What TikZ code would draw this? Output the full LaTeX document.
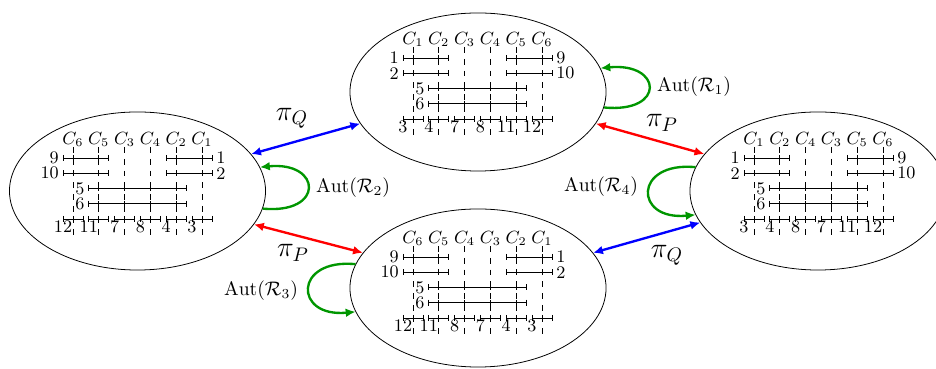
\documentclass[tikz,border=0pt]{standalone}
\usetikzlibrary{shapes.geometric,arrows.meta}
\definecolor{autgreen}{RGB}{0,150,0}
\newcommand\panel[7]{% #1 prefix, #2 origin, #3 column labels, #4 left row labels, #5 right row labels, #6 bottom labels
  \begin{scope}[shift={#2}]
    \foreach \l [count=\i from 0] in {#3} {
      \node[collab] (#1c\i) at (\i*25.8,-13) {$C_{\l}$};
      \draw[colline] (\i*25.8,-11) -- (\i*25.8,80);
    }
    \foreach \l [count=\i from 0] in {#4} {
      \node[rowlab,anchor=east] (#1l\i) at (-10,\i*15.2) {\l};
      \draw[ival] (-10,\i*15.2) -- (35.8,\i*15.2);
      \foreach \t in {-10,0,25.8,35.8} \draw[ival] (\t,\i*15.2-3) -- (\t,\i*15.2+3);
    }
    \foreach \l [count=\i from 0] in {#5} {
      \node[rowlab,anchor=west] (#1r\i) at (139,\i*15.2) {\l};
      \draw[ival] (93.2,\i*15.2) -- (139,\i*15.2);
      \foreach \t in {93.2,103.2,129,139} \draw[ival] (\t,\i*15.2-3) -- (\t,\i*15.2+3);
    }
    \foreach \l/\y in {5/30.5,6/45.6} {
      \node[rowlab,anchor=east] (#1m\l) at (15.8,\y) {\l};
      \draw[ival] (15.8,\y) -- (113.2,\y);
      \foreach \t in {15.8,25.8,51.6,77.4,103.2,113.2} \draw[ival] (\t,\y-3) -- (\t,\y+3);
    }
    \foreach \l [count=\i from 0] in {#6} {
      \draw[ival] (\i*25.8-10,61) -- (\i*25.8+10,61);
      \foreach \d in {-10,0,10} \draw[ival] (\i*25.8+\d,58) -- (\i*25.8+\d,64);
      \node[botlab] (#1b\i) at (\i*25.8-10,62.5) {\l};
    }
  \end{scope}}
\begin{document}
\begin{tikzpicture}[x=0.51pt,y=-0.51pt,
  state/.style={draw, ellipse, line width=0.4pt, minimum width=130.6pt, minimum height=80.6pt, inner sep=0pt},
  collab/.style={font=\small, anchor=base, inner sep=0pt},
  rowlab/.style={font=\small, inner sep=2pt},
  botlab/.style={font=\small, anchor=north, inner sep=0pt},
  colline/.style={dashed, line width=0.4pt},
  ival/.style={line width=0.45pt},
  qarrow/.style={blue, line width=1.2pt, {Latex[length=5pt,width=4.5pt]}-{Latex[length=5pt,width=4.5pt]}},
  parrow/.style={red, line width=1.2pt, {Latex[length=5pt,width=4.5pt]}-{Latex[length=5pt,width=4.5pt]}},
  autloop/.style={autgreen, line width=1.2pt, -{Latex[length=5pt,width=4.5pt]}},
  pilab/.style={font=\Large, inner sep=0pt},
  autlab/.style={inner sep=0pt}]
\useasboundingbox (0,0) rectangle (936,369);
% ellipses
\node[state] (T) at (478,92) {};
\node[state] (L) at (137.5,191) {};
\node[state] (B) at (478,288) {};
\node[state] (R) at (818,191) {};
% panels
\panel{t}{(413,58)}{1,2,3,4,5,6}{1,2}{9,10}{3,4,7,8,11,12}{}
\panel{l}{(73,158)}{6,5,3,4,2,1}{9,10}{1,2}{12,11,7,8,4,3}{}
\panel{b}{(413,257)}{6,5,4,3,2,1}{9,10}{1,2}{12,11,8,7,4,3}{}
\panel{r}{(754,158)}{1,2,4,3,5,6}{1,2}{9,10}{3,4,8,7,11,12}{}
% projections
\draw[qarrow] (L.18) -- (T.195);
\draw[parrow] (L.-16) -- (B.163);
\draw[parrow] (T.-15) -- (R.162);
\draw[qarrow] (B.17) -- (R.195);
\node[pilab] (pq1) at (292,118) {$\pi_Q$};
\node[pilab] (pp1) at (293,253) {$\pi_P$};
\node[pilab] (pp2) at (662,123) {$\pi_P$};
\node[pilab] (pq2) at (667,255) {$\pi_Q$};
% automorphism loops
\draw[autloop] (T.-7) .. controls +(62,6) and +(62,-6) .. (T.11);
\draw[autloop] (L.-8) .. controls +(62,6) and +(62,-6) .. (L.11);
\draw[autloop] (R.169) .. controls +(-62,-6) and +(-62,6) .. (R.191);
\draw[autloop] (B.169) .. controls +(-62,-6) and +(-62,6) .. (B.191);
\node[autlab] (a1) at (694,87) {$\mathrm{Aut}(\mathcal{R}_1)$};
\node[autlab] (a2) at (353,188) {$\mathrm{Aut}(\mathcal{R}_2)$};
\node[autlab] (a3) at (261,291) {$\mathrm{Aut}(\mathcal{R}_3)$};
\node[autlab] (a4) at (601,187) {$\mathrm{Aut}(\mathcal{R}_4)$};
\end{tikzpicture}
\end{document}
